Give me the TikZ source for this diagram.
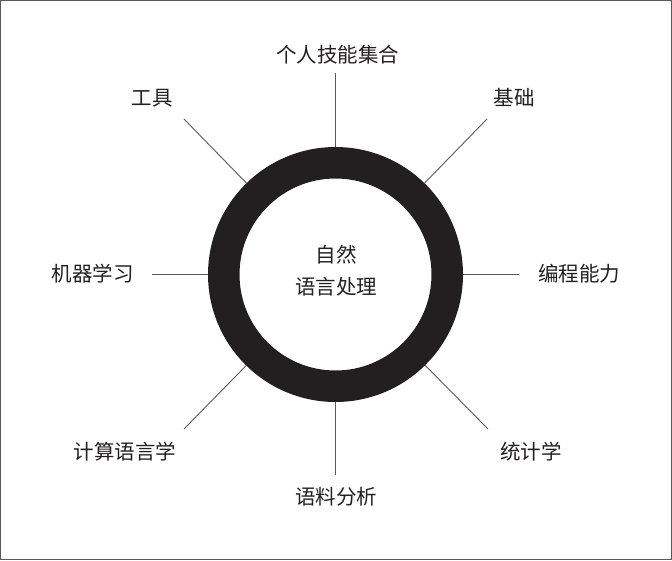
\documentclass[tikz,border=0pt]{standalone}
\usepackage{fontspec}
\setmainfont{Noto Sans CJK SC}
\begin{document}
\begin{tikzpicture}[x=1pt,y=-1pt]
\definecolor{ink}{HTML}{231F20}
\definecolor{spokec}{HTML}{5A5A5A}
\tikzset{
  ring/.style={circle,draw=ink,line width=31.5pt,minimum size=223.5pt,inner sep=0pt},
  lbl/.style={text=ink,font=\fontsize{20.5}{32}\selectfont,inner sep=0pt,align=center},
  spoke/.style={draw=spokec,line width=0.9pt}
}
\useasboundingbox (0,0) rectangle (672,560);
\draw[spokec,line width=0.9pt] (0.5,0.5) rectangle (671.5,559.5);
\node[ring] (c) at (335.5,274.5) {};
\node[lbl] (mid) at (336,271) {自然\\语言处理};
\node[lbl] (top) at (337.5,55) {个人技能集合};
\node[lbl] (tool) at (152,98) {工具};
\node[lbl] (base) at (514,98) {基础};
\node[lbl] (ml) at (92.5,274) {机器学习};
\node[lbl] (prog) at (579,274) {编程能力};
\node[lbl] (cl) at (125,452) {计算语言学};
\node[lbl] (stat) at (531,452) {统计学};
\node[lbl] (corp) at (336,497) {语料分析};
\coordinate (eT) at (335.5,73);
\coordinate (eB) at (335.5,475);
\coordinate (eL) at (152,274.5);
\coordinate (eR) at (519,274.5);
\coordinate (eNW) at (184,119);
\coordinate (eNE) at (487,119);
\coordinate (eSW) at (184,429);
\coordinate (eSE) at (488,429);
\foreach \e in {eT,eB,eL,eR,eNW,eNE,eSW,eSE}{
  \draw[spoke] (c) -- (\e);
}
\end{tikzpicture}
\end{document}
